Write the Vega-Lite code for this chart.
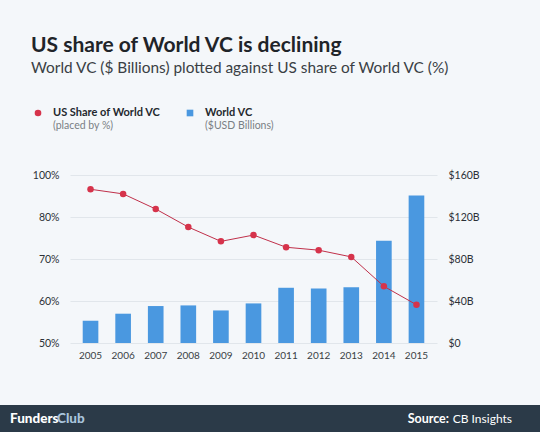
{
  "$schema": "https://vega.github.io/schema/vega-lite/v6.json",
  "description": "US share of World VC vs World VC totals, 2005-2015.",
  "background": "#f4f7fa",
  "padding": {"top": 34, "left": 0, "right": 0, "bottom": 0},
  "config": {
    "font": "Lato",
    "view": {"stroke": null},
    "axis": {"labelFont": "Lato", "labelColor": "#2c3137", "ticks": false, "domain": false, "title": null}
  },
  "title": {
    "text": "US share of World VC is declining",
    "subtitle": "World VC ($ Billions) plotted against US share of World VC (%)",
    "anchor": "start",
    "dx": 31,
    "offset": 27,
    "font": "Lato",
    "fontSize": 21,
    "fontWeight": "bold",
    "color": "#1f2429",
    "subtitleFont": "Lato",
    "subtitleFontSize": 15.4,
    "subtitleColor": "#3a3f45",
    "subtitlePadding": 5
  },
  "datasets": {
    "vc": [
      {"year": "2005", "world_vc": 21.2, "us_share": 93.2},
      {"year": "2006", "world_vc": 27.9, "us_share": 91.0},
      {"year": "2007", "world_vc": 35.2, "us_share": 83.8},
      {"year": "2008", "world_vc": 35.8, "us_share": 77.6},
      {"year": "2009", "world_vc": 31.0, "us_share": 74.2},
      {"year": "2010", "world_vc": 37.7, "us_share": 75.7},
      {"year": "2011", "world_vc": 52.6, "us_share": 72.8},
      {"year": "2012", "world_vc": 52.0, "us_share": 72.1},
      {"year": "2013", "world_vc": 53.2, "us_share": 70.5},
      {"year": "2014", "world_vc": 97.3, "us_share": 63.5},
      {"year": "2015", "world_vc": 140.4, "us_share": 59.1}
    ],
    "legend": [
      {"item": "US Share of World VC", "note": "(placed by %)"},
      {"item": "World VC", "note": "($USD Billions)"}
    ],
    "footer": [
      {"text": "Funders", "side": 0},
      {"text": "Club", "side": 0},
      {"text": "Source:", "side": 1},
      {"text": "CB Insights", "side": 1}
    ]
  },
  "spacing": 0,
  "vconcat": [
    {
      "spacing": 38,
      "vconcat": [
        {
          "width": 470,
          "height": 20,
          "data": {"name": "legend"},
          "encoding": {
            "x": {"field": "item", "type": "nominal", "sort": null, "axis": null,
                  "scale": {"type": "point", "padding": 0, "range": [-32, 120]}}
          },
          "layer": [
            {
              "mark": {"type": "point", "filled": true, "opacity": 1, "size": 44},
              "encoding": {
                "shape": {"field": "item", "type": "nominal", "legend": null,
                          "scale": {"domain": ["US Share of World VC", "World VC"], "range": ["circle", "square"]}},
                "color": {"field": "item", "type": "nominal", "legend": null,
                          "scale": {"domain": ["US Share of World VC", "World VC"], "range": ["#d6334b", "#4a98e0"]}}
              }
            },
            {
              "mark": {"type": "text", "align": "left", "baseline": "middle", "dx": 15, "fontSize": 11, "fontWeight": "bold", "color": "#24292e"},
              "encoding": {"text": {"field": "item"}}
            },
            {
              "mark": {"type": "text", "align": "left", "baseline": "middle", "dx": 15, "dy": 13, "fontSize": 10.5, "color": "#7a7f85"},
              "encoding": {"text": {"field": "note"}}
            }
          ]
        },
        {
          "width": 367,
          "height": 168,
          "data": {"name": "vc"},
          "encoding": {
            "x": {
              "field": "year", "type": "ordinal",
              "scale": {"paddingInner": 0, "paddingOuter": 0.13},
              "axis": {"labelAngle": 0, "labelFontSize": 10, "labelPadding": 7, "minExtent": 62, "labelColor": "#3a3f45"}
            }
          },
          "layer": [
            {
              "mark": {"type": "bar", "color": "#4a98e0", "width": {"band": 0.48}},
              "encoding": {
                "y": {
                  "field": "world_vc", "type": "quantitative",
                  "scale": {"domain": [0, 160], "nice": false},
                  "axis": {
                    "orient": "right", "grid": false, "values": [0, 40, 80, 120, 160],
                    "labelExpr": "datum.value == 0 ? '$0' : '$' + datum.value + 'B'",
                    "labelFontSize": 10.5, "labelPadding": 11
                  }
                }
              }
            },
            {
              "encoding": {
                "y": {
                  "field": "us_share", "type": "quantitative",
                  "scale": {"domain": [50, 60, 70, 80, 100], "range": [168, 126, 84, 42, 0], "nice": false, "zero": false},
                  "axis": {
                    "orient": "left", "grid": true, "gridColor": "#e1e6eb", "gridWidth": 1,
                    "values": [50, 60, 70, 80, 100],
                    "labelExpr": "datum.value + '%'",
                    "labelFontSize": 10.5, "labelPadding": 11, "minExtent": 70
                  }
                }
              },
              "layer": [
                {"mark": {"type": "line", "color": "#c0304a", "strokeWidth": 1}},
                {"mark": {"type": "point", "filled": true, "opacity": 1, "color": "#d6334b", "size": 42}}
              ]
            }
          ],
          "resolve": {"scale": {"y": "independent"}, "axis": {"y": "independent"}}
        }
      ]
    },
    {
      "width": 470,
      "height": 27,
      "layer": [
        {
          "data": {"values": [{"band": "footer"}]},
          "mark": {"type": "rect", "color": "#2b3a48", "opacity": 1},
          "encoding": {
            "x": {"datum": 0, "type": "quantitative", "axis": null,
                  "scale": {"domain": [0, 1], "nice": false, "zero": false, "range": [-70, 470]}},
            "x2": {"datum": 1},
            "y": {"datum": 0, "type": "quantitative", "axis": null,
                  "scale": {"domain": [0, 1], "nice": false}},
            "y2": {"datum": 1}
          }
        },
        {
          "data": {"name": "footer"},
          "transform": [{"filter": "datum.text == 'Funders'"}],
          "mark": {"type": "text", "align": "left", "baseline": "middle", "dx": 10, "fontSize": 13.5, "fontWeight": 900, "color": "#ffffff"},
          "encoding": {"x": {"field": "side", "type": "quantitative"}, "text": {"field": "text"}}
        },
        {
          "data": {"name": "footer"},
          "transform": [{"filter": "datum.text == 'Club'"}],
          "mark": {"type": "text", "align": "left", "baseline": "middle", "dx": 57, "fontSize": 13.5, "fontWeight": 900, "color": "#a9c4dc"},
          "encoding": {"x": {"field": "side", "type": "quantitative"}, "text": {"field": "text"}}
        },
        {
          "data": {"name": "footer"},
          "transform": [{"filter": "datum.text == 'Source:'"}],
          "mark": {"type": "text", "align": "right", "baseline": "middle", "dx": -91, "fontSize": 12.5, "fontWeight": "bold", "color": "#ffffff"},
          "encoding": {"x": {"field": "side", "type": "quantitative"}, "text": {"field": "text"}}
        },
        {
          "data": {"name": "footer"},
          "transform": [{"filter": "datum.text == 'CB Insights'"}],
          "mark": {"type": "text", "align": "right", "baseline": "middle", "dx": -28, "fontSize": 12, "color": "#ffffff"},
          "encoding": {"x": {"field": "side", "type": "quantitative"}, "text": {"field": "text"}}
        }
      ]
    }
  ]
}
